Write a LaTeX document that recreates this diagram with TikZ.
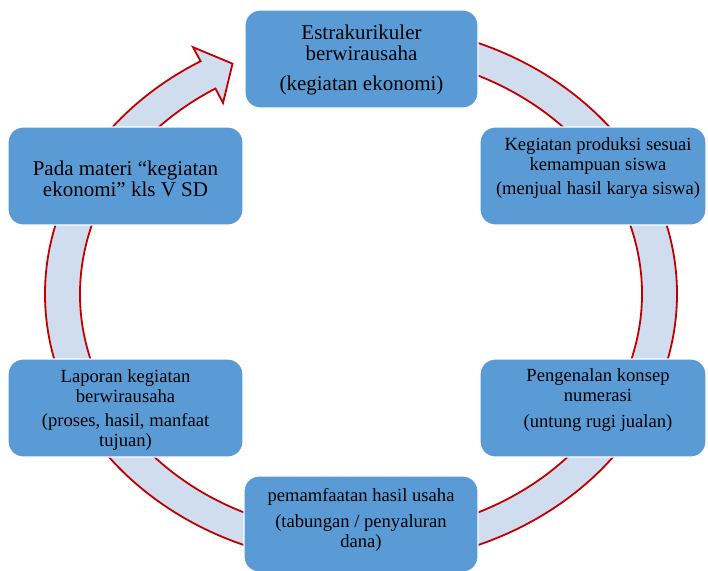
\documentclass[tikz,border=0pt]{standalone}
\usepackage{fontspec}
\setmainfont{Liberation Serif}
\definecolor{boxblue}{RGB}{91,155,213}
\definecolor{ringfill}{RGB}{207,221,238}
\definecolor{ringred}{RGB}{192,0,0}
\tikzset{
  box/.style={draw=white, line width=1.2pt, fill=boxblue, rounded corners=15pt,
    minimum height=98pt, inner sep=0pt},
  label/.style={align=center, inner sep=0pt, text=black},
  bigtext/.style={label, font=\fontsize{21}{20.7}\selectfont},
  smalltext/.style={label, font=\fontsize{18.6}{19.8}\selectfont},
  ringstyle/.style={draw=ringred, line width=1.8pt, fill=ringfill, line join=miter}
}
\begin{document}
\begin{tikzpicture}[x=1pt, y=-1pt]
\useasboundingbox (0,0) rectangle (708,570);
% cycle ring with arrowhead
\begin{scope}[shift={(361,294)}, yscale=-0.855]
  \draw[ringstyle] (90:316) arc[start angle=90, end angle=-239.5, radius=316]
    -- (-239.8:334) -- (-244.5:298.5) -- (-238.3:262.6) -- (-238.8:281)
    arc[start angle=-238.8, end angle=90, radius=281] -- cycle;
\end{scope}
% boxes
\node[box, minimum width=233pt] (top) at (361.5,59) {};
\node[box, minimum width=226pt] (tr) at (593,176) {};
\node[box, minimum width=226pt] (br) at (593,408) {};
\node[box, minimum width=234pt, minimum height=96pt] (bot) at (361,524) {};
\node[box, minimum width=235pt] (bl) at (125.5,408) {};
\node[box, minimum width=235pt] (tl) at (125.5,176) {};
% texts
\node[bigtext] (toptext) at (361.5,60)
  {Estrakurikuler\\berwirausaha\\[9pt](kegiatan ekonomi)};
\node[smalltext] (trtext) at (598,168)
  {Kegiatan produksi sesuai\\kemampuan siswa\\[4pt](menjual hasil karya siswa)};
\node[smalltext] (brtext) at (598,400)
  {Pengenalan konsep\\numerasi\\[6pt](untung rugi jualan)};
\node[smalltext] (bottext) at (361,520)
  {pemamfaatan hasil usaha\\[6pt](tabungan / penyaluran\\dana)};
\node[smalltext] (bltext) at (125.5,410)
  {Laporan kegiatan\\berwirausaha\\[4pt](proses, hasil, manfaat\\tujuan)};
\node[bigtext] (tltext) at (125.5,179)
  {Pada materi “kegiatan\\ekonomi” kls V SD};
\end{tikzpicture}
\end{document}
